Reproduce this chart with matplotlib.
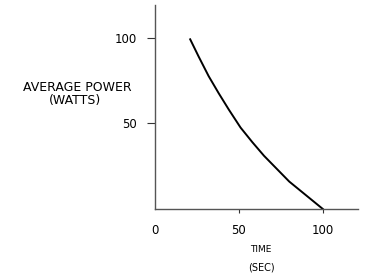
import matplotlib
matplotlib.use('Agg')
import matplotlib.pyplot as plt

# values
time_sec = [21, 26, 32, 38, 44, 51, 58, 65, 72, 80, 90, 100]
power_w = [99, 89, 77.5, 67.5, 58, 47.5, 39, 31, 24, 16, 8, 0]
xticks = [0, 50, 100]
yticks = [50, 100]

plt.rcParams['font.family'] = 'DejaVu Sans'

fig = plt.figure(figsize=(3.68, 2.79), dpi=100)
ax = fig.add_axes([0.421, 0.251, 0.552, 0.731])

ax.plot(time_sec, power_w, color='black', linewidth=1.4)

ax.set_xlim(0, 121)
ax.set_ylim(0, 119)
ax.spines['top'].set_visible(False)
ax.spines['right'].set_visible(False)
for s in ['left', 'bottom']:
    ax.spines[s].set_color('#555555')
    ax.spines[s].set_linewidth(1.0)

ax.set_xticks(xticks)
ax.set_yticks(yticks)
ax.tick_params(axis='both', labelsize=8.5, color='#333333', width=0.8)
ax.tick_params(axis='x', pad=8, length=3)
ax.tick_params(axis='y', pad=7, length=5.8)
ax.xaxis.get_major_ticks()[0].tick1line.set_visible(False)

# axis titles, placed as in the reference
fig.text(0.209, 0.686, 'AVERAGE POWER', fontsize=9, ha='center', va='center')
fig.text(0.204, 0.641, '(WATTS)', fontsize=9, ha='center', va='center')
fig.text(0.709, 0.106, 'TIME', fontsize=6.5, ha='center', va='center')
fig.text(0.711, 0.043, '(SEC)', fontsize=7, ha='center', va='center')

fig.savefig('out.png', dpi=100)
